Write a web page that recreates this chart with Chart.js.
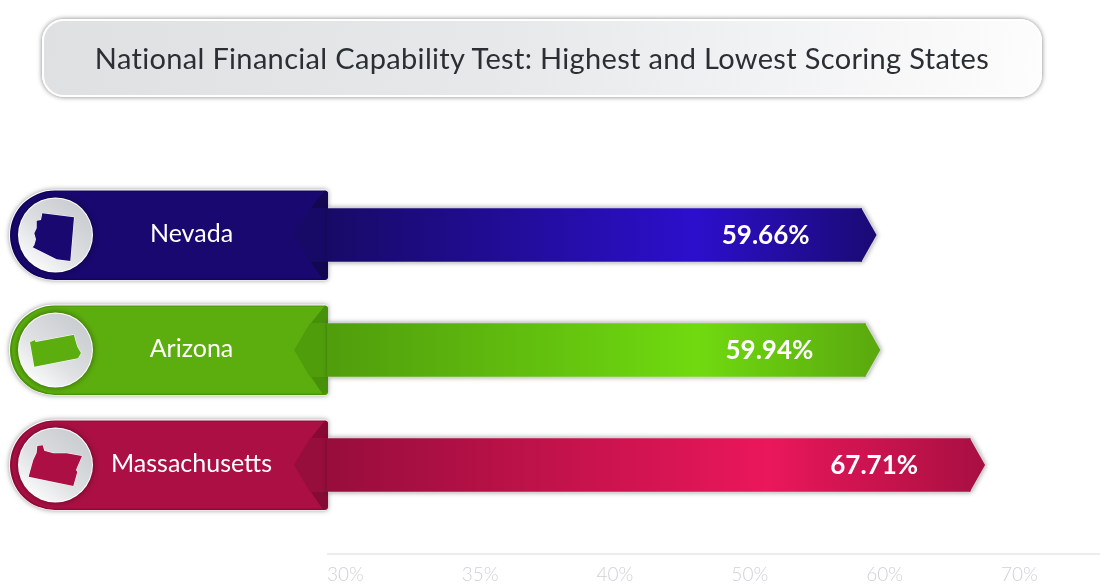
<!DOCTYPE html>
<html>
<head>
  <meta charset="utf-8" />
  <style>
    html, body { margin: 0; padding: 0; background: #fff; }
    #wrap { position: relative; width: 1100px; height: 587px; overflow: hidden; }
    canvas { position: absolute; left: 0; top: 0; }
    #title {
      position: absolute; left: 42px; top: 19px; width: 1000px; height: 78px;
      box-sizing: border-box; border: 2px solid #fff; border-radius: 22px;
      background: linear-gradient(100deg, #dee0e2 0%, #e6e8ea 45%, #fdfdfd 100%);
      box-shadow: 0 0 5px rgba(0, 0, 0, .5);
      font: 29px Lato, sans-serif; letter-spacing: .33px; color: #2b2f33;
      text-align: center; line-height: 74px; white-space: nowrap;
    }
  </style>
</head>
<body>
  <div id="wrap">
    <canvas id="chart" width="1100" height="587"></canvas>
    <div id="title">National Financial Capability Test: Highest and Lowest Scoring States</div>
  </div>

  <script src="https://cdn.jsdelivr.net/npm/chart.js"></script>
  <script>
    const states = ["Nevada", "Arizona", "Massachusetts"];
    const scores = [59.66, 59.94, 67.71];
    const tickValues = [30, 35, 40, 50, 60, 70];

    const ribbonColors = ["#19086f", "#5cae0e", "#ab0f43"];
    const ribbonEdge = ["#12055a", "#4b960a", "#8f0b37"];
    const foldColors = ["#170a66", "#509d0c", "#970d3b"];
    const foldDark = ["#120750", "#47900a", "#860a33"];
    const barLeft = ["#170a66", "#509d0c", "#970d3b"];
    const barMid = ["#2c0fcc", "#70da10", "#ea175b"];
    const barRight = ["#1a0a74", "#5aa80e", "#a80f42"];

    // state outlines on the round badges, relative to the badge centre
    const icons = [
      [[-12.7,-21.7],[19,-17.7],[15.3,26],[1.7,24.3],[-22.3,12.3],[-20.7,10.3],[-19,4.3],[-20.7,-1.7],[-18.3,-6.7],[-18.3,-14.3],[-14,-15]],
      [[-25,-7.7],[-20.3,-10],[-19.3,-8],[19,-15.3],[20.3,-10],[22.3,-3.3],[26,3],[23,8.3],[-20.7,16.7]],
      [[-17.7,-19],[-12.3,-19.7],[-10.7,-14.3],[-1.7,-11.7],[11.7,-11.7],[27,-9],[22.3,1.7],[21,5],[22.3,7],[18.3,21],[-26.3,11.7],[-24.3,4.3],[-21.7,-5],[-18.3,-12.3]]
    ];

    const FONT = 'Lato, sans-serif';
    const TIP = 15;

    // the axis labels are evenly spaced although their steps differ
    class SteppedScale extends Chart.LinearScale {
      static id = "stepped";
      static defaults = Chart.LinearScale.defaults;
      buildTicks() {
        return tickValues.map(value => ({ value }));
      }
      stepOf(v) {
        let i = 0;
        while (i < tickValues.length - 2 && v > tickValues[i + 1]) i++;
        return i + (v - tickValues[i]) / (tickValues[i + 1] - tickValues[i]);
      }
      getPixelForValue(v) {
        return this.getPixelForDecimal(this.stepOf(v) / this.stepOf(this.max));
      }
      getValueForPixel() {
        return this.min;
      }
    }
    Chart.register(SteppedScale);

    function barGradient(chart, i) {
      const x = chart.scales.x;
      const x0 = x.getPixelForValue(tickValues[0]);
      const x1 = x.getPixelForValue(scores[i]) + TIP;
      // scale has no size yet on the first pass
      if (!isFinite(x0) || !isFinite(x1)) return barMid[i];
      const g = chart.ctx.createLinearGradient(x0, 0, x1, 0);
      g.addColorStop(0, barLeft[i]);
      g.addColorStop(0.67, barMid[i]);
      g.addColorStop(1, barRight[i]);
      return g;
    }

    function polygon(ctx, pts) {
      ctx.beginPath();
      pts.forEach((p, n) => n ? ctx.lineTo(p[0], p[1]) : ctx.moveTo(p[0], p[1]));
      ctx.closePath();
    }

    function ribbonPath(ctx, l, r, top, bottom) {
      const rad = (bottom - top) / 2;
      ctx.beginPath();
      ctx.moveTo(l + rad, top);
      ctx.lineTo(r - 3, top);
      ctx.quadraticCurveTo(r, top, r, top + 3);
      ctx.lineTo(r, bottom - 3);
      ctx.quadraticCurveTo(r, bottom, r - 3, bottom);
      ctx.lineTo(l + rad, bottom);
      ctx.arc(l + rad, top + rad, rad, Math.PI / 2, Math.PI * 1.5);
      ctx.closePath();
    }

    const ribbonPlugin = {
      id: "ribbons",
      beforeDraw(chart) {
        const ctx = chart.ctx;
        const y = chart.scales.y;
        const axisX = chart.scales.x.left;

        ctx.save();
        ctx.strokeStyle = "#e4e6e7";
        ctx.lineWidth = 1.5;
        ctx.beginPath();
        ctx.moveTo(axisX, 554);
        ctx.lineTo(chart.width, 554);
        ctx.stroke();

        states.forEach((s, i) => {
          const c = y.getPixelForValue(i);
          const r = axisX + 1;
          ctx.save();
          ctx.shadowColor = "rgba(0,0,0,.4)";
          ctx.shadowBlur = 5;
          ctx.fillStyle = "#fff";
          ribbonPath(ctx, 9, r, c - 45.5, c + 45.5);
          ctx.fill();
          ctx.restore();

          ctx.fillStyle = ribbonEdge[i];
          ribbonPath(ctx, 10, r, c - 44.5, c + 45);
          ctx.fill();
          ctx.fillStyle = ribbonColors[i];
          ribbonPath(ctx, 12, r, c - 43.5, c + 43.5);
          ctx.fill();

          // folded end of the ribbon
          ctx.fillStyle = foldDark[i];
          polygon(ctx, [[r - 3, c - 44.5], [r, c - 42], [r, c - 27], [r - 17, c - 27]]);
          ctx.fill();
          polygon(ctx, [[r - 5, c + 44.5], [r, c + 42], [r, c + 27], [r - 17, c + 27]]);
          ctx.fill();
          ctx.fillStyle = foldColors[i];
          polygon(ctx, [[r, c - 27], [r - 18, c - 27], [r - 34, c], [r - 18, c + 27], [r, c + 27]]);
          ctx.fill();

          // badge
          ctx.save();
          ctx.shadowColor = "rgba(0,0,0,.45)";
          ctx.shadowBlur = 6;
          ctx.fillStyle = "#fff";
          ctx.beginPath();
          ctx.arc(55.5, c, 37.5, 0, Math.PI * 2);
          ctx.fill();
          ctx.restore();
          const g = ctx.createLinearGradient(80, c - 30, 30, c + 30);
          g.addColorStop(0, "#c9ccd0");
          g.addColorStop(0.6, "#dfe1e3");
          g.addColorStop(1, "#fbfbfb");
          ctx.fillStyle = g;
          ctx.beginPath();
          ctx.arc(55.5, c, 36.5, 0, Math.PI * 2);
          ctx.fill();
          polygon(ctx, icons[i].map(p => [55 + p[0], c + p[1]]));
          ctx.fillStyle = ribbonColors[i];
          ctx.strokeStyle = "#fff";
          ctx.lineWidth = 1;
          ctx.stroke();
          ctx.fill();

          // y tick labels sit inside the ribbon, centred at a fixed spot
          ctx.fillStyle = "#fff";
          ctx.font = "25px " + FONT;
          ctx.textAlign = "center";
          ctx.textBaseline = "middle";
          ctx.fillText(y.getLabelForValue(i), 191.5, c - 1);
        });
        ctx.restore();
      },
      beforeDatasetsDraw(chart) {
        const ctx = chart.ctx;
        chart.getDatasetMeta(0).data.forEach(bar => {
          const h = bar.height / 2;
          ctx.save();
          ctx.shadowColor = "rgba(0,0,0,.4)";
          ctx.shadowBlur = 5;
          ctx.fillStyle = "#d8d8d8";
          polygon(ctx, [[bar.base + 1, bar.y - h - 1], [bar.x + 1, bar.y - h - 1], [bar.x + TIP + 1, bar.y], [bar.x + 1, bar.y + h + 1], [bar.base + 1, bar.y + h + 1]]);
          ctx.fill();
          ctx.restore();
        });
      },
      afterDatasetsDraw(chart) {
        const ctx = chart.ctx;
        chart.getDatasetMeta(0).data.forEach((bar, i) => {
          const h = bar.height / 2;
          ctx.save();
          ctx.fillStyle = barGradient(chart, i);
          polygon(ctx, [[bar.x - 1, bar.y - h], [bar.x, bar.y - h], [bar.x + TIP, bar.y], [bar.x, bar.y + h], [bar.x - 1, bar.y + h]]);
          ctx.fill();
          ctx.fillStyle = "#fff";
          ctx.font = "700 26px " + FONT;
          ctx.textAlign = "right";
          ctx.textBaseline = "middle";
          ctx.fillText(scores[i].toFixed(2) + "%", bar.x - 52, bar.y + 1);
          ctx.restore();
        });
      }
    };

    new Chart(document.getElementById("chart"), {
      type: "bar",
      data: {
        labels: states,
        datasets: [{
          data: scores,
          base: tickValues[0],
          barThickness: 53,
          borderSkipped: false,
          backgroundColor: c => barGradient(c.chart, c.dataIndex ?? 0)
        }]
      },
      options: {
        indexAxis: "y",
        responsive: false,
        animation: false,
        layout: { padding: { top: 177.5 } },
        plugins: { legend: { display: false }, tooltip: { enabled: false } },
        scales: {
          x: {
            type: "stepped",
            min: 30,
            max: 77.35,
            grid: { display: false, drawTicks: false },
            border: { display: false },
            afterFit: s => { s.height = 64.5; },
            ticks: {
              align: "start",
              padding: 40.5,
              autoSkip: false,
              maxRotation: 0,
              color: "#cfd2d5",
              font: { family: FONT, size: 19, weight: "300" },
              callback: v => v + "%"
            }
          },
          y: {
            grid: { display: false, drawTicks: false },
            border: { display: false },
            afterFit: s => { s.width = 327; },
            ticks: { display: false }
          }
        }
      },
      plugins: [ribbonPlugin]
    });
  </script>
</body>
</html>
